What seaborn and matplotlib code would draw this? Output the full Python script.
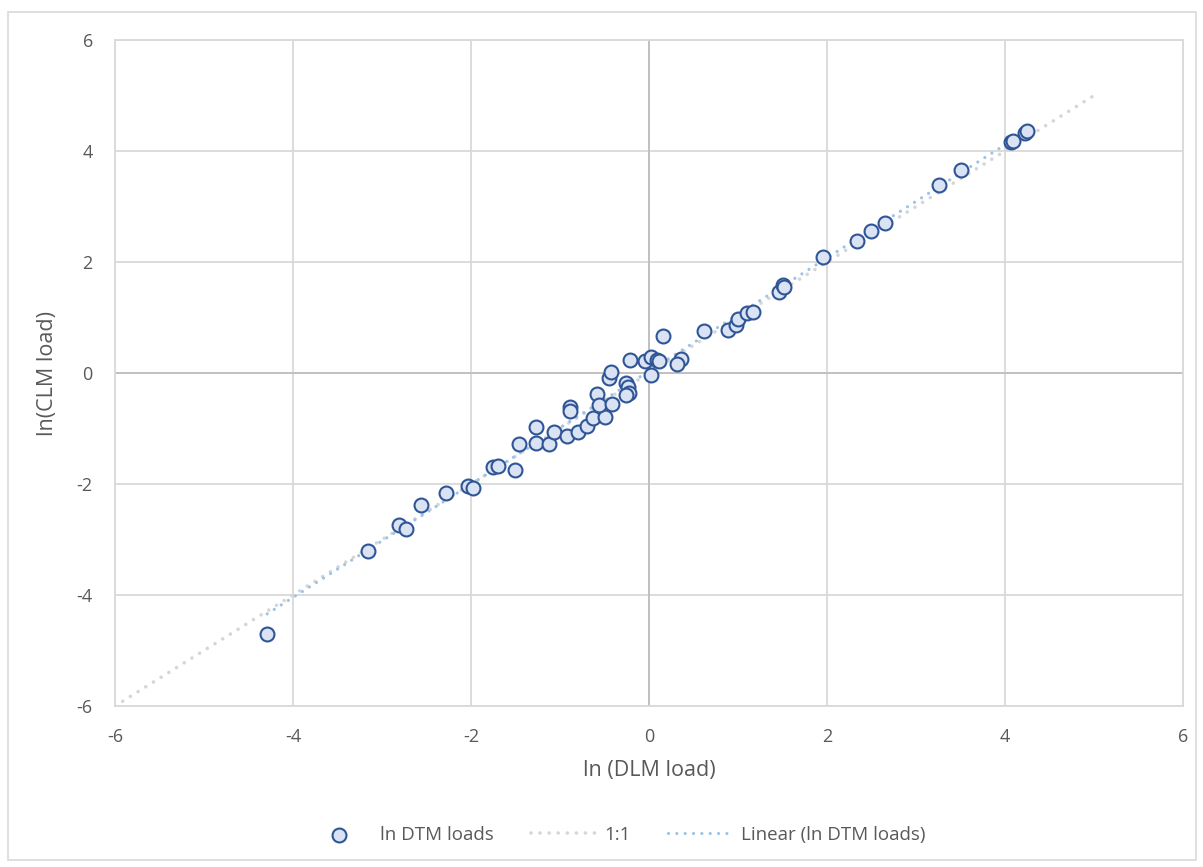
"""ln DTM loads vs CLM loads scatter, with 1:1 line and linear trend."""
import matplotlib.pyplot as plt
from matplotlib.patches import Rectangle
import pandas as pd
import seaborn as sns

# Values.
ln_dlm = [-4.29, -3.16, -2.81, -2.73, -2.56, -2.28, -2.03, -1.98, -1.75, -1.70,
          -1.51, -1.46, -1.27, -1.27, -1.12, -1.07, -0.92, -0.80, -0.70, -0.63,
          -0.49, -0.89, -0.89, -0.58, -0.56, -0.42, -0.45, -0.43, -0.26, -0.24,
          -0.22, -0.26, -0.21, -0.04, 0.02, 0.09, 0.11, 0.02, 0.36, 0.31,
          0.16, 0.62, 0.89, 0.98, 1.00, 1.10, 1.17, 1.46, 1.51, 1.52,
          1.96, 2.34, 2.49, 2.65, 3.26, 3.51, 4.07, 4.09, 4.22, 4.25]
ln_clm = [-4.70, -3.21, -2.74, -2.81, -2.38, -2.16, -2.04, -2.07, -1.69, -1.68,
          -1.75, -1.28, -1.26, -0.97, -1.28, -1.06, -1.14, -1.06, -0.95, -0.81,
          -0.79, -0.61, -0.68, -0.38, -0.58, -0.56, -0.09, 0.02, -0.18, -0.25,
          -0.36, -0.40, 0.23, 0.22, 0.29, 0.23, 0.22, -0.03, 0.25, 0.16,
          0.67, 0.76, 0.77, 0.86, 0.97, 1.08, 1.10, 1.46, 1.59, 1.55,
          2.09, 2.38, 2.56, 2.70, 3.39, 3.65, 4.16, 4.18, 4.33, 4.36]
one_to_one = [-6, 5]
ticks = [-6, -4, -2, 0, 2, 4, 6]

df = pd.DataFrame({'ln_dlm': ln_dlm, 'ln_clm': ln_clm})
ref = pd.DataFrame({'x': one_to_one, 'y': one_to_one})

sns.set_style('white')
plt.rcParams['font.family'] = ['Open Sans', 'DejaVu Sans']
plt.rcParams['axes.unicode_minus'] = False

fig = plt.figure(figsize=(12.03, 8.67), dpi=100)
ax = fig.add_axes([115 / 1203, 1 - 706 / 867, 1068 / 1203, 666 / 867])

grid_col = '#D9D9D9'
ax.set_xlim(-6, 6)
ax.set_ylim(-6, 6)
ax.set_xticks(ticks)
ax.set_yticks(ticks)
ax.grid(True, color=grid_col, linewidth=1.3, zorder=0)
for s in ax.spines.values():
    s.set_color(grid_col)
    s.set_linewidth(1.3)
ax.axhline(0, color='#BFBFBF', linewidth=1.3, zorder=1)
ax.axvline(0, color='#BFBFBF', linewidth=1.3, zorder=1)

# dotted lines: tiny dashes with round caps give round dots
sns.lineplot(data=ref, x='x', y='y', ax=ax, color='#D6D6D6', linewidth=2.6,
             linestyle=(0, (0.01, 2.5)), dash_capstyle='round', label='1:1', zorder=2)
sns.regplot(data=df, x='ln_dlm', y='ln_clm', ax=ax, scatter=False, ci=None,
            truncate=True, label='Linear (ln DTM loads)',
            line_kws={'color': '#9DC3E6', 'linewidth': 2.3,
                      'linestyle': (0, (0.01, 2.6)), 'dash_capstyle': 'round', 'zorder': 3})
sns.scatterplot(data=df, x='ln_dlm', y='ln_clm', ax=ax, s=100, color='#DAE3F3',
                edgecolor='#2F5597', linewidth=1.5, label='ln DTM loads', zorder=4)

ax.tick_params(length=0, labelsize=13, labelcolor='#595959', pad=16)
ax.set_xlabel('ln (DLM load)', fontsize=15.5, color='#595959', labelpad=10)
ax.set_ylabel('ln(CLM load)', fontsize=15.5, color='#595959', labelpad=13)

handles, labels = ax.get_legend_handles_labels()
order = [labels.index(l) for l in ['ln DTM loads', '1:1', 'Linear (ln DTM loads)']]
ax.get_legend().remove()
fig.legend([handles[i] for i in order], [labels[i] for i in order],
           loc='center', bbox_to_anchor=(0.512, 1 - 835 / 867), ncol=3, frameon=False,
           fontsize=13.5, labelcolor='#595959', handlelength=3.5, handletextpad=0.4,
           columnspacing=2.0)

fig.add_artist(Rectangle((8 / 1203, 1 - 860 / 867), 1188 / 1203, 848 / 867,
                         transform=fig.transFigure, fill=False,
                         edgecolor='#D9D9D9', linewidth=1.2))

fig.savefig('out.png', dpi=100)
